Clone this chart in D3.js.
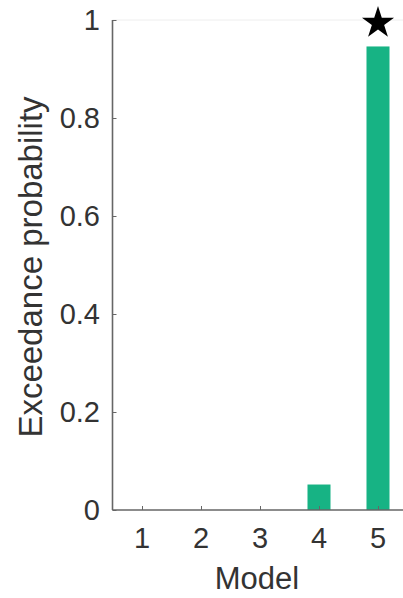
<!DOCTYPE html>
<html><head><meta charset="utf-8">
<script src="https://cdn.jsdelivr.net/npm/d3@7"></script>
<style>html,body{margin:0;padding:0;background:#fff;}svg{display:block;}</style>
</head><body>
<script>
const models = [1, 2, 3, 4, 5];
const exceedance = [0, 0, 0, 0.052, 0.946];
const yTicks = [0, 0.2, 0.4, 0.6, 0.8, 1];
const yTickLabels = ["0", "0.2", "0.4", "0.6", "0.8", "1"];
const bestModel = 5;

const W = 403, H = 598;
const svg = d3.select("body").append("svg").attr("width", W).attr("height", H);
const font = "'Liberation Sans', Arial, Helvetica, sans-serif";
const textColor = "#333";
const axisColor = "#666";

const x = d3.scaleLinear().domain([0.5, 5.5]).range([112.5, 407.5]);
const y = d3.scaleLinear().domain([0, 1]).range([510, 20]);
const barW = 0.39;

// top faint box line
svg.append("line").attr("x1", x(0.5)).attr("x2", W).attr("y1", y(1)).attr("y2", y(1))
  .attr("stroke", "#eee").attr("stroke-width", 1);

// bars
svg.selectAll("rect.bar").data(models.map((m, i) => ({m, v: exceedance[i]})).filter(d => d.v > 0))
  .enter().append("rect").attr("class", "bar")
  .attr("x", d => x(d.m - barW / 2)).attr("width", d => x(d.m + barW / 2) - x(d.m - barW / 2))
  .attr("y", d => y(d.v)).attr("height", d => y(0) - y(d.v))
  .attr("fill", "#17b384");

// y axis
const yAxis = d3.axisRight(y).tickValues(yTicks).tickSize(4).tickFormat("");
const gy = svg.append("g").attr("transform", `translate(${x(0.5)},0)`).call(yAxis);
gy.select(".domain").attr("stroke", axisColor).attr("stroke-width", 1.6).attr("d", `M0,${y(1)}V${y(0)}`);
gy.selectAll(".tick line").attr("stroke", axisColor).attr("stroke-width", 1);
svg.append("g").selectAll("text").data(yTicks).enter().append("text")
  .attr("x", 100).attr("y", d => y(d)).attr("dy", "0.36em")
  .attr("text-anchor", "end").attr("font-family", font).attr("font-size", 29)
  .attr("fill", textColor).text((d, i) => yTickLabels[i]);

// x axis
const xAxis = d3.axisTop(x).tickValues(models).tickSize(4).tickFormat("");
const gx = svg.append("g").attr("transform", `translate(0,${y(0)})`).call(xAxis);
gx.select(".domain").attr("stroke", axisColor).attr("stroke-width", 1.6).attr("d", `M${x(0.5)},0H${W}`);
gx.selectAll(".tick line").attr("stroke", axisColor).attr("stroke-width", 1);
svg.append("g").selectAll("text").data(models).enter().append("text")
  .attr("x", d => x(d)).attr("y", 548)
  .attr("text-anchor", "middle").attr("font-family", font).attr("font-size", 29)
  .attr("fill", textColor).text(d => d);

// axis labels
svg.append("text").attr("x", 257).attr("y", 589).attr("text-anchor", "middle")
  .attr("font-family", font).attr("font-size", 31).attr("fill", textColor).text("Model");
svg.append("text").attr("transform", `translate(42,${y(0.5) + 2}) rotate(-90)`)
  .attr("text-anchor", "middle").attr("font-family", font).attr("font-size", 33)
  .attr("fill", textColor).text("Exceedance probability");

// star above best model
svg.append("path").attr("d", d3.symbol(d3.symbolStar, 320)())
  .attr("transform", `translate(${x(bestModel)},${y(1) + 3})`).attr("fill", "#000");
</script>
</body></html>
